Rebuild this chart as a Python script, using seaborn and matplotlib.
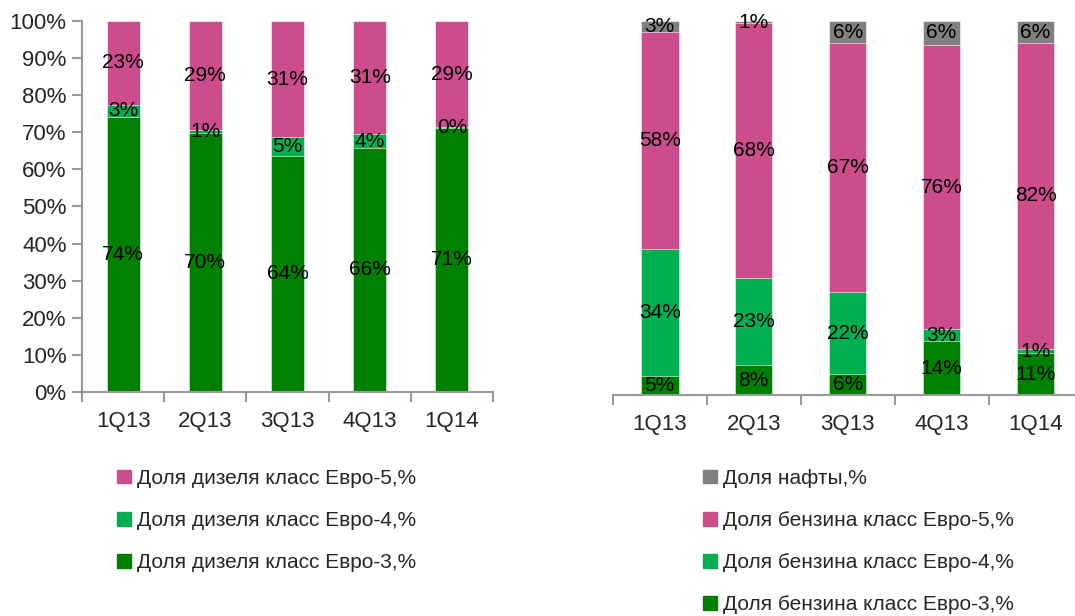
import matplotlib
matplotlib.use("Agg")
import matplotlib.pyplot as plt
from matplotlib.patches import Patch
import seaborn as sns
import pandas as pd

sns.set_style("white")
plt.rcParams["font.family"] = ["Liberation Sans", "DejaVu Sans"]

quarters = ["1Q13", "2Q13", "3Q13", "4Q13", "1Q14"]

# diesel shares, %
diesel_e3 = [74.2, 69.9, 63.7, 65.8, 71.2]
diesel_e4 = [3.2, 0.8, 4.9, 3.6, 0.2]
diesel_e5 = [22.6, 29.3, 31.4, 30.6, 28.6]

# gasoline shares, %
petrol_e3 = [5.1, 7.9, 5.6, 14.3, 11.1]
petrol_e4 = [33.9, 23.4, 21.8, 3.3, 1.3]
petrol_e5 = [58.0, 68.1, 66.6, 76.0, 81.6]
naphtha = [3.0, 0.6, 6.0, 6.4, 6.0]

diesel_labels = ["Доля дизеля класс Евро-5,%", "Доля дизеля класс Евро-4,%",
                 "Доля дизеля класс Евро-3,%"]
petrol_labels = ["Доля нафты,%", "Доля бензина класс Евро-5,%",
                 "Доля бензина класс Евро-4,%", "Доля бензина класс Евро-3,%"]

COLORS = {
    "e3": "#008000",
    "e4": "#00B050",
    "e5": "#CC4C8C",
    "naphtha": "#808080",
}
AXIS_GREY = "#9a9a9a"
FS = 15


def stacked(ax, layers, colors):
    """Draw stacked bars bottom->top by overlaying cumulative totals (top layer first)."""
    cum = []
    run = [0.0] * len(quarters)
    for vals in layers:
        run = [r + v for r, v in zip(run, vals)]
        cum.append(list(run))
    for vals, color in reversed(list(zip(cum, colors))):
        df = pd.DataFrame({"q": quarters, "v": vals})
        sns.barplot(data=df, x="q", y="v", color=color, saturation=1, width=0.4,
                    edgecolor="white", linewidth=0.4, ax=ax)
    # segment labels
    for vals, base_cum in zip(layers, [[0] * len(quarters)] + cum[:-1]):
        for i, (v, b) in enumerate(zip(vals, base_cum)):
            ax.text(i, b + v / 2, f"{round(v):.0f}%", ha="center", va="center",
                    fontsize=FS, color="black")


def style_axis(ax, show_y):
    ax.set_xlim(-0.5, 4.5)
    ax.set_ylim(0, 100)
    ax.set_xlabel("")
    ax.set_ylabel("")
    for s in ["top", "right"]:
        ax.spines[s].set_visible(False)
    ax.spines["bottom"].set_color(AXIS_GREY)
    ax.spines["bottom"].set_linewidth(1.5)
    ax.set_xticks([i - 0.5 for i in range(6)], minor=False)
    ax.set_xticklabels([])
    ax.set_xticks(range(5), minor=True)
    ax.set_xticklabels(quarters, minor=True, fontsize=FS + 1)
    ax.tick_params(axis="x", which="major", direction="out", length=7, width=1.5,
                   color=AXIS_GREY, bottom=True)
    ax.tick_params(axis="x", which="minor", length=0, pad=14)
    if show_y:
        ax.spines["left"].set_color(AXIS_GREY)
        ax.spines["left"].set_linewidth(1.5)
        ax.set_yticks(range(0, 101, 10))
        ax.set_yticklabels([f"{t}%" for t in range(0, 101, 10)], fontsize=FS + 1)
        ax.tick_params(axis="y", direction="out", length=7, width=1.5,
                       color=AXIS_GREY, left=True, pad=4)
    else:
        ax.spines["left"].set_visible(False)
        ax.set_yticks([])


fig = plt.figure(figsize=(10.75, 6.16), dpi=100)
ax1 = fig.add_axes([0.0763, 0.3636, 0.3823, 0.6024])
ax2 = fig.add_axes([0.570, 0.3588, 0.437, 0.6072])

stacked(ax1, [diesel_e3, diesel_e4, diesel_e5],
        [COLORS["e3"], COLORS["e4"], COLORS["e5"]])
style_axis(ax1, True)

stacked(ax2, [petrol_e3, petrol_e4, petrol_e5, naphtha],
        [COLORS["e3"], COLORS["e4"], COLORS["e5"], COLORS["naphtha"]])
style_axis(ax2, False)

leg_kw = dict(loc="upper left", frameon=False, fontsize=FS, handlelength=0.65,
              handleheight=0.65, handletextpad=0.3, labelspacing=1.11,
              borderpad=0, borderaxespad=0)
h1 = [Patch(color=COLORS[k]) for k in ["e5", "e4", "e3"]]
fig.legend(h1, diesel_labels, bbox_to_anchor=(0.109, 0.239), **leg_kw)
h2 = [Patch(color=COLORS[k]) for k in ["naphtha", "e5", "e4", "e3"]]
fig.legend(h2, petrol_labels, bbox_to_anchor=(0.654, 0.239), **leg_kw)

fig.savefig("out.png", dpi=100)
